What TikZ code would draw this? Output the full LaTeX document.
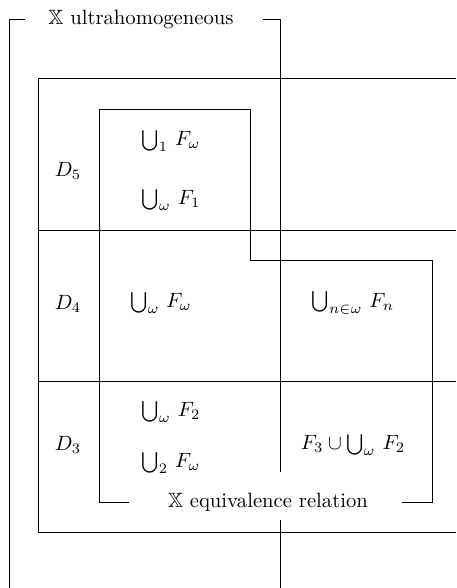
\documentclass[tikz,border=0pt]{standalone}
\usepackage{amsmath,amssymb}
\usetikzlibrary{positioning}

\begin{document}
\begin{tikzpicture}[x=0.017cm,y=-0.017cm,line width=.45pt,every node/.style={inner sep=0pt}]
\useasboundingbox (0,0) rectangle (456,588);
% ultrahomogeneous bracket
\node (uh) at (141,19) {$\mathbb{X}$ ultrahomogeneous};
\coordinate (u0) at (9,588);
\coordinate (u1) at (9,19);
\coordinate (u2) at (25,19);
\coordinate (u3) at (263,19);
\coordinate (u4) at (280,19);
\coordinate (u5) at (280,472);
\coordinate (u6) at (280,520);
\coordinate (u7) at (280,588);
\draw (u2)--(u1)--(u0);
\draw (u3)--(u4)--(u5);
\draw (u6)--(u7);
% rows D5, D4, D3
\coordinate (d0) at (456,78);
\coordinate (d1) at (38,78);
\coordinate (d2) at (38,532);
\coordinate (d3) at (456,532);
\coordinate (r1) at (38,230);
\coordinate (r2) at (456,230);
\coordinate (r3) at (38,381);
\coordinate (r4) at (456,381);
\draw (d0)--(d1)--(d2)--(d3);
\draw (r1)--(r2);
\draw (r3)--(r4);
% equivalence relation bracket
\node (eq) at (268,502) {$\mathbb{X}$ equivalence relation};
\coordinate (e0) at (129,502);
\coordinate (e1) at (99,502);
\coordinate (e2) at (99,109);
\coordinate (e3) at (250,109);
\coordinate (e4) at (250,260);
\coordinate (e5) at (432,260);
\coordinate (e6) at (432,502);
\coordinate (e7) at (402,502);
\draw (e0)--(e1)--(e2)--(e3)--(e4)--(e5)--(e6)--(e7);
% labels
\node (D5) at (68,171) {$D_5$};
\node (D4) at (68,304) {$D_4$};
\node (D3) at (68,445) {$D_3$};
\node (a1) at (171,141) {$\bigcup_1\, F_\omega$};
\node (a2) at (171,200) {$\bigcup_\omega\, F_1$};
\node (b1) at (161,303) {$\bigcup_\omega\, F_\omega$};
\node (b2) at (353,303) {$\bigcup_{n\in\omega}\, F_n$};
\node (c1) at (171,412) {$\bigcup_\omega\, F_2$};
\node (c2) at (171,463) {$\bigcup_2\, F_\omega$};
\node (c3) at (353,445) {$F_3\cup\bigcup_\omega\, F_2$};
\end{tikzpicture}
\end{document}
